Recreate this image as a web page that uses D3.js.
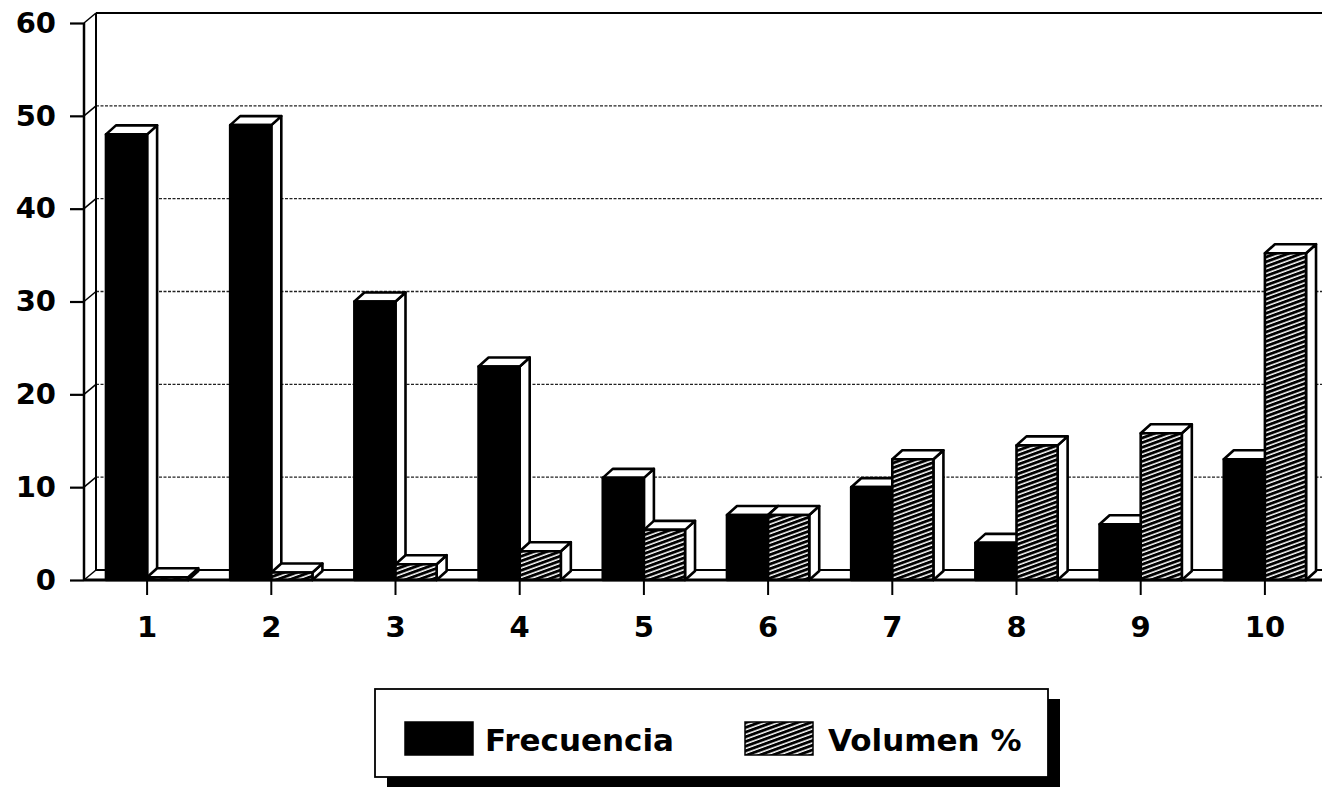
<!DOCTYPE html>
<html>
<head>
<meta charset="utf-8">
<script src="https://cdn.jsdelivr.net/npm/d3@7"></script>
<style>
  html, body { margin: 0; padding: 0; background: #fff; }
  svg { display: block; }
  text { font-family: "DejaVu Sans", "Liberation Sans", sans-serif; font-weight: bold; fill: #000; }
</style>
</head>
<body>
<svg id="chart" width="1322" height="793"></svg>
<script>
// Data
const categories = ["1", "2", "3", "4", "5", "6", "7", "8", "9", "10"];
const frecuencia = [48, 49, 30, 23, 11, 7, 10, 4, 6, 13];
const volumen = [0.3, 0.8, 1.7, 3.1, 5.4, 7.0, 13.0, 14.5, 15.8, 35.2];
const seriesNames = ["Frecuencia", "Volumen %"];
const yTicks = [0, 10, 20, 30, 40, 50, 60];

const svg = d3.select("#chart");
const W = 1322;

// Pseudo-3D depth offsets
const wallDx = 12, wallDy = -10;
const barDx = 10, barDy = -9;

const x = d3.scaleBand().domain(categories).range([85, 1327]).paddingInner(0).paddingOuter(0);
const sub = d3.scaleBand().domain(seriesNames).range([0, x.bandwidth()]).paddingInner(0).paddingOuter(0.51);
const y = d3.scaleLinear().domain([0, 60]).range([580, 23]);

// Hatch pattern for the volume series
const defs = svg.append("defs");
const pat = defs.append("pattern")
  .attr("id", "hatch")
  .attr("patternUnits", "userSpaceOnUse")
  .attr("width", 10).attr("height", 4.4)
  .attr("patternTransform", "rotate(-20)");
pat.append("rect").attr("width", 10).attr("height", 4.4).attr("fill", "#fff");
pat.append("rect").attr("width", 10).attr("height", 2.9).attr("fill", "#000");

const x0 = x.range()[0] - 1;

// Back wall: top edge and dotted gridlines
const wall = svg.append("g");
wall.append("line")
  .attr("x1", x0 + wallDx).attr("x2", W)
  .attr("y1", y(60) + wallDy).attr("y2", y(60) + wallDy)
  .attr("stroke", "#000").attr("stroke-width", 2);
wall.selectAll("line.grid")
  .data(yTicks.filter(d => d > 0 && d < 60))
  .join("line")
  .attr("class", "grid")
  .attr("x1", x0 + wallDx).attr("x2", W)
  .attr("y1", d => y(d) + wallDy).attr("y2", d => y(d) + wallDy)
  .attr("stroke", "#222").attr("stroke-width", 1.4)
  .attr("stroke-dasharray", "3,1.5");

// Left side wall edges
wall.append("line")
  .attr("x1", x0 + wallDx).attr("x2", x0 + wallDx)
  .attr("y1", y(60) + wallDy).attr("y2", y(0) + wallDy)
  .attr("stroke", "#000").attr("stroke-width", 2);
wall.selectAll("line.diag")
  .data(yTicks)
  .join("line")
  .attr("class", "diag")
  .attr("x1", x0).attr("x2", x0 + wallDx)
  .attr("y1", d => y(d)).attr("y2", d => y(d) + wallDy)
  .attr("stroke", "#000").attr("stroke-width", 1.5);

// Floor: back edge
wall.append("line")
  .attr("x1", x0 + wallDx).attr("x2", W)
  .attr("y1", y(0) + wallDy).attr("y2", y(0) + wallDy)
  .attr("stroke", "#000").attr("stroke-width", 2);

// Front vertical axis line
wall.append("line")
  .attr("x1", x0).attr("x2", x0)
  .attr("y1", y(60)).attr("y2", y(0))
  .attr("stroke", "#000").attr("stroke-width", 2.5);

// Bars
const rows = categories.map((c, i) => ({ c, vals: [
  { s: seriesNames[0], v: frecuencia[i] },
  { s: seriesNames[1], v: volumen[i] }
]}));

const barsG = svg.append("g");
rows.forEach(row => {
  row.vals.forEach(d => {
    const bx0 = x(row.c) + sub(d.s);
    const bx1 = bx0 + sub.bandwidth();
    const yt = y(d.v), yb = y(0);
    const g = barsG.append("g")
      .attr("stroke", "#000").attr("stroke-width", 2.6).attr("stroke-linejoin", "round");
    // side face
    g.append("polygon")
      .attr("points", [[bx1, yt], [bx1 + barDx, yt + barDy], [bx1 + barDx, yb + barDy], [bx1, yb]].join(" "))
      .attr("fill", "#fff");
    // top face
    g.append("polygon")
      .attr("points", [[bx0, yt], [bx0 + barDx, yt + barDy], [bx1 + barDx, yt + barDy], [bx1, yt]].join(" "))
      .attr("fill", "#fff");
    // front face
    g.append("rect")
      .attr("x", bx0).attr("y", yt)
      .attr("width", bx1 - bx0).attr("height", yb - yt)
      .attr("fill", d.s === seriesNames[0] ? "#000" : "url(#hatch)");
  });
});

// Front floor edge (drawn over bar bottoms)
svg.append("line")
  .attr("x1", x0).attr("x2", W)
  .attr("y1", y(0)).attr("y2", y(0))
  .attr("stroke", "#000").attr("stroke-width", 3);

// Y axis
const yAxis = svg.append("g")
  .attr("transform", `translate(${x0},0)`)
  .call(d3.axisLeft(y).tickValues(yTicks).tickSize(14).tickPadding(14));
yAxis.select(".domain").remove();
yAxis.selectAll(".tick line").attr("stroke", "#000").attr("stroke-width", 2.2);
yAxis.selectAll(".tick text")
  .style("font-family", "'DejaVu Sans', sans-serif")
  .style("font-weight", "bold")
  .style("font-size", "29px")
  .attr("fill", "#000");

// X axis
const xAxis = svg.append("g")
  .attr("transform", `translate(0,${y(0)})`)
  .call(d3.axisBottom(x).tickSize(15).tickPadding(21));
xAxis.select(".domain").remove();
xAxis.selectAll(".tick line").attr("stroke", "#000").attr("stroke-width", 2);
xAxis.selectAll(".tick text")
  .style("font-family", "'DejaVu Sans', sans-serif")
  .style("font-weight", "bold")
  .style("font-size", "29px")
  .attr("fill", "#000");

// Legend with drop shadow
const lg = svg.append("g");
lg.append("rect").attr("x", 387).attr("y", 699).attr("width", 673).attr("height", 88).attr("fill", "#000");
lg.append("rect").attr("x", 375).attr("y", 689).attr("width", 673).attr("height", 88)
  .attr("fill", "#fff").attr("stroke", "#000").attr("stroke-width", 1.8);

const legendItems = [
  { name: seriesNames[0], sx: 405, tx: 485, fill: "#000" },
  { name: seriesNames[1], sx: 745, tx: 828, fill: "url(#hatch)" }
];
legendItems.forEach(it => {
  lg.append("rect").attr("x", it.sx).attr("y", 722).attr("width", 68).attr("height", 33)
    .attr("fill", it.fill).attr("stroke", "#000").attr("stroke-width", 1.5);
  lg.append("text").attr("x", it.tx).attr("y", 751)
    .style("font-size", "31px")
    .text(it.name);
});
</script>
</body>
</html>
